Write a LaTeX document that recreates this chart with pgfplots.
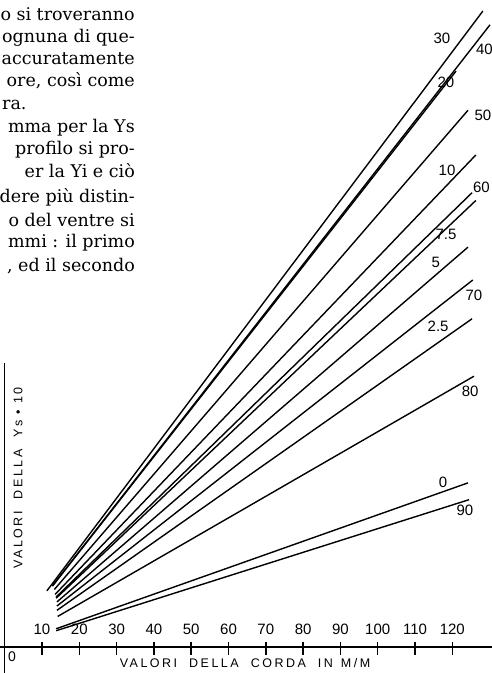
\documentclass[border=0pt]{standalone}
\usepackage{fontspec}
\setmainfont{DejaVu Serif}
\newfontfamily\hand{Liberation Sans}
\newfontfamily\handsp{Liberation Sans}[LetterSpace=20]
\usepackage{pgfplots}
\pgfplotsset{compat=1.18}
\pgfplotsset{ink/.style={black, solid, mark=none, line width=1.4pt}}
\begin{document}
\begin{tikzpicture}
\useasboundingbox (0pt,0pt) rectangle (492pt,673pt);
\clip (0pt,0pt) rectangle (492pt,673pt);
\begin{axis}[at={(0pt,0pt)}, anchor=south west, scale only axis,
  width=492pt, height=673pt,
  xmin=-1.26, xmax=130.64, ymin=-6.97, ymax=173.46,
  axis x line=middle, axis y line=none, clip=false,
  axis line style={line width=1.4pt, -},
  xtick={10,20,...,120}, ytick=\empty,
  major tick length=0pt,
  xticklabel style={anchor=south, yshift=9pt, font=\hand\fontsize{15}{15}\selectfont},
  /pgf/number format/assume math mode=true,
]
\addplot[ink] coordinates {(11.3,15.03) (128.2,170.5)};  % 30
\addplot[ink] coordinates {(12.8,16.41) (130.1,166.8)};  % 40
\addplot[ink] coordinates {(12.8,16.33) (121.0,154.4)};  % 20
\addplot[ink] coordinates {(13.3,15.41) (124.2,143.9)};  % 50
\addplot[ink] coordinates {(13.5,14.09) (126.3,131.9)};  % 10
\addplot[ink] coordinates {(13.8,13.41) (125.3,121.8)};  % 60
\addplot[ink] coordinates {(13.8,13.08) (126.3,119.7)};  % 7.5
\addplot[ink] coordinates {(14.0,12.08) (124.2,107.2)};  % 5
\addplot[ink] coordinates {(14.0,10.98) (125.5,98.4)};   % 70
\addplot[ink] coordinates {(14.0,9.83) (125.3,88.0)};    % 2.5
\addplot[ink] coordinates {(14.2,8.19) (125.8,72.6)};    % 80
\addplot[ink] coordinates {(13.8,4.89) (124.2,44.0)};    % 0
\addplot[ink] coordinates {(13.8,4.37) (124.5,39.5)};    % 90

\pgfplotsinvokeforeach{10,20,30,40,50,60,70,80,90,100,110,120}{
  \draw[line width=1.5pt] (axis cs:#1,-2.1) -- (axis cs:#1,1.4);
}

\begin{scope}[every node/.style={font=\hand\fontsize{15}{15}\selectfont, inner sep=0pt}]
\node at (axis cs:117.2,163.3) {30};
\node at (axis cs:128.6,160.1) {40};
\node at (axis cs:118.3,151.5) {20};
\node at (axis cs:128.2,142.6) {50};
\node at (axis cs:118.6,127.9) {10};
\node at (axis cs:127.8,123.3) {60};
\node at (axis cs:118.3,110.5) {7.5};
\node at (axis cs:115.6,103.0) {5};
\node at (axis cs:125.8,94.4) {70};
\node at (axis cs:116.2,86.1) {2.5};
\node at (axis cs:124.8,68.6) {80};
\node at (axis cs:117.5,44.2) {0};
\node at (axis cs:123.4,36.7) {90};
\end{scope}
\draw[line width=1.4pt] (axis cs:0,-6.97) -- (axis cs:0,76.1);
\end{axis}
% origin label and axis titles
\node[font=\hand\fontsize{14}{14}\selectfont, inner sep=0pt] at (12pt,16pt) {0};
\node[font=\handsp\fontsize{12.5}{13}\selectfont, inner sep=0pt] at (245pt,10pt)
  {VALORI\hspace{12pt}DELLA\hspace{12pt}CORDA\hspace{12pt}IN\hspace{8pt}M/M};
\node[font=\handsp\fontsize{12.5}{13}\selectfont, inner sep=0pt, rotate=90] at (18pt,195pt)
  {VALORI\hspace{12pt}DELLA\hspace{12pt}Ys • 10};
% page text fragment
\begin{scope}[every node/.style={font=\fontsize{17.5}{22}\selectfont, inner sep=0pt, anchor=base east}]
\node at (135pt,652.3pt) {o si troveranno};
\node at (135pt,630pt) {ognuna di que-};
\node at (135pt,608pt) {accuratamente};
\node at (135pt,586pt) {ore, così come};
\node[anchor=base west] at (2pt,563pt) {ra.};
\node at (135pt,540pt) {mma per la Ys};
\node at (135pt,518pt) {profilo si pro-};
\node at (135pt,495pt) {er la Yi e ciò};
\node at (135pt,470pt) {dere più distin-};
\node at (135pt,446pt) {o del ventre si};
\node at (135pt,425pt) {mmi : il primo};
\node at (135pt,401pt) {, ed il secondo};
\end{scope}
\end{tikzpicture}
\end{document}
